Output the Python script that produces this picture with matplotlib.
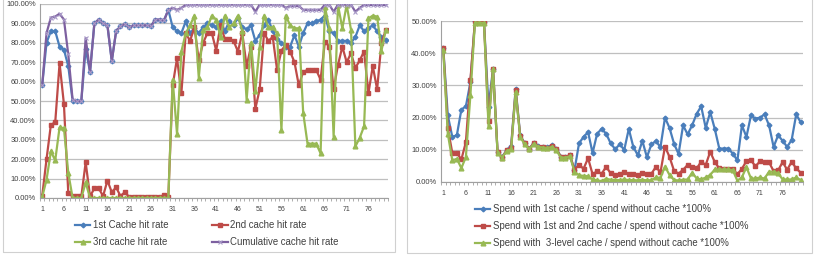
import numpy as np
import matplotlib
matplotlib.use("Agg")
import matplotlib.pyplot as plt
from matplotlib.patches import Rectangle

plt.rcParams['font.family'] = ['Liberation Sans', 'DejaVu Sans']

### Data ###
runs = np.arange(1, 81)
tick_labels = [str(i) for i in range(1, 80, 5)]

hit_1st = [58, 80, 86, 86, 78, 76.5, 68, 50, 50, 50,
           77, 65, 90, 92, 90, 89, 70.6, 86, 88.5, 89.7,
           88, 89, 89, 89, 89, 88.5, 92, 92, 91.5, 97,
           88, 86, 85, 91, 85, 87.5, 85, 88, 90, 89,
           88, 91, 86, 91, 89, 93, 88, 87, 89, 81,
           84, 89, 92, 86, 82, 80, 78, 78, 84, 78,
           85, 90, 90, 91, 92, 94, 86, 85, 81, 81,
           81, 80, 83, 89, 86, 87.5, 89, 86, 83, 81.5]
hit_2nd = [1, 20, 37.7, 39, 69.5, 48.4, 2.6, 0.8, 0.8, 0.8,
           18.4, 0.8, 5, 5, 1, 9, 3, 5.5, 1, 3,
           0.5, 0.5, 0.5, 0.5, 0.5, 0.5, 0.5, 0.5, 1.4, 0.5,
           58, 72, 54, 85, 81, 88, 71, 80, 85, 85,
           76, 89, 82, 82, 81, 75.5, 85, 68, 78, 46,
           56, 85, 81, 83, 66, 76, 79, 75.5, 70, 58,
           65, 66, 66, 66, 61, 80.6, 78, 56, 68.6, 78,
           70, 74.6, 67, 71, 75.5, 54, 68, 56, 80, 86.6]
hit_3rd = [0.5, 9.4, 24, 19.4, 36.4, 36, 13, 0, 0, 0,
           8, 0, 0, 0, 0, 0, 0, 0, 0, 0,
           0, 0, 0, 0, 0, 0, 0, 0, 0, 0,
           61, 33, 75.5, 85, 89, 94, 62, 86.6, 88, 94,
           92, 83, 94, 88, 90, 94, 86, 50.6, 80, 55,
           78, 94, 88, 88, 85, 35, 94, 89, 87.5, 87.5,
           44, 28, 28, 28, 23, 98.6, 87.5, 31.6, 99.5, 87.5,
           99.5, 86.6, 26.6, 31, 37, 92.6, 94, 93.5, 76, 86.6]
hit_cum = [58, 85, 93, 93.5, 95, 92, 74, 50.6, 50, 50,
           82.5, 65, 90, 92, 90, 89, 70.6, 86, 88.5, 89.7,
           88, 89, 89, 89, 89, 88.5, 92, 92, 91.5, 97,
           98, 97, 98, 99.5, 99.7, 99.7, 99.7, 99.7, 99.7, 99.7,
           99.7, 99.7, 99.7, 99.7, 99.7, 99.7, 99.7, 99.7, 99.7, 96,
           99.7, 99.7, 99.7, 99.7, 99.7, 99.7, 98, 99, 99, 99,
           97, 97, 97, 97, 97, 99.7, 99.7, 96, 99.7, 99.7,
           99.7, 99.7, 96, 98, 99.5, 99.5, 99.5, 99.5, 99.5, 99.5]

spend_1 = [41.6, 20.7, 14, 14.5, 22.5, 23.5, 31, 50, 50, 49.7,
           23.3, 35.2, 9.3, 7.8, 9.8, 11.2, 29, 14.5, 12, 10.4,
           12, 11.2, 10.9, 10.9, 11.4, 10.4, 7.8, 7.8, 8.3, 3.6,
           12, 14, 15.5, 9, 15, 16.5, 15, 12, 10.2, 11.7,
           10, 16.5, 10.9, 8.3, 12.8, 7.7, 11.7, 12.7, 10.8, 20,
           16.8, 11.9, 8.7, 17.6, 14.8, 17.6, 21.2, 23.5, 16.8, 21.7,
           16.5, 10.4, 10.4, 10.4, 8.8, 6.7, 17.6, 14, 20.7, 19.7,
           20, 21, 17.6, 10.9, 14.5, 12.8, 10.9, 13.1, 21, 18.5]
spend_12 = [41.6, 16.8, 9, 9, 7, 12.4, 31.6, 50, 50, 49.8,
            18.8, 35.2, 9.3, 7.6, 9.8, 10.6, 28.5, 14.2, 12, 10.4,
            12, 11, 10.9, 10.7, 11.2, 10.2, 7.8, 7.8, 8.3, 3.8,
            5.4, 4.1, 7.4, 2.4, 3.3, 2.6, 4.7, 2.7, 2.2, 2.4,
            3, 2.4, 2.4, 2.1, 2.8, 2.4, 2.6, 4.7, 3, 11,
            7.8, 3.5, 2.6, 3.8, 5.3, 4.8, 4.2, 6.3, 5.3, 9.4,
            6.2, 4.2, 4, 4, 4, 2.4, 4.1, 6.5, 6.7, 4.9,
            6.4, 6.1, 6.1, 3.4, 3.6, 6.2, 3.8, 6.3, 4.2, 2.9]
spend_3 = [40.9, 15, 6.7, 7.2, 4.3, 7.8, 27, 49.5, 49.5, 49.4,
           17.3, 35, 9, 7.6, 9.6, 10.2, 28, 14, 11.7, 10.1,
           11.9, 10.9, 10.7, 10.5, 10.9, 9.8, 7.6, 7.6, 8, 3.2,
           2.1, 1.9, 1.8, 0.8, 0.5, 0.3, 1, 0.7, 0.6, 0.6,
           0.8, 0.6, 0.6, 0.5, 0.7, 0.5, 0.6, 1.4, 1.3, 4.8,
           2.2, 0.6, 0.5, 0.7, 0.8, 2.9, 1.1, 0.8, 1.4, 2.2,
           3.9, 3.9, 3.9, 3.9, 3.6, 0.4, 1.5, 4.6, 1.1, 1.1,
           1.4, 1.1, 3.2, 3.2, 2.7, 0.8, 0.8, 0.8, 1.4, 0.6]

left_labels = ['1st Cache hit rate', '3rd cache hit rate',
               '2nd cache hit rate', 'Cumulative cache hit rate']
right_labels = ['Spend with 1st cache / spend without cache *100%',
                'Spend with 1st and 2nd cache / spend without cache *100%',
                'Spend with  3-level cache / spend without cache *100%']

BLUE, RED, GREEN, PURPLE = '#4A7EBB', '#BE4B48', '#98B954', '#7D60A0'
GRID = '#BFBFBF'
TXT = '#404040'


def style_axis(ax, ymax, step):
    ax.set_xlim(0.5, 80.5)
    ax.set_ylim(0, ymax)
    ax.set_yticks(np.arange(0, ymax + 0.1, step))
    ax.set_yticklabels(['%.2f%%' % v for v in np.arange(0, ymax + 0.1, step)])
    ax.set_xticks(range(1, 80, 5))
    ax.set_xticklabels(tick_labels)
    ax.set_xticks(np.arange(0.5, 81, 1), minor=True)
    ax.tick_params(axis='x', which='major', length=0, labelsize=5, colors=TXT, pad=6)
    ax.tick_params(axis='x', which='minor', length=2, color='#A0A0A0', width=0.6)
    ax.tick_params(axis='y', length=0, labelsize=5.5, colors=TXT, pad=3)
    ax.grid(axis='y', color=GRID, lw=0.9)
    ax.set_axisbelow(True)
    for s in ['top', 'right']:
        ax.spines[s].set_visible(False)
    for s in ['left', 'bottom']:
        ax.spines[s].set_color('#A0A0A0')
        ax.spines[s].set_linewidth(0.8)


fig = plt.figure(figsize=(8.2, 2.56), dpi=100)

# panel frames
fig.patches.append(Rectangle((3 / 820, 4 / 256), 392 / 820, 260 / 256,
                             transform=fig.transFigure, fill=False,
                             ec='#D0D0D0', lw=0.8))
fig.patches.append(Rectangle((407 / 820, 3 / 256), 405 / 820, 260 / 256,
                             transform=fig.transFigure, fill=False,
                             ec='#D0D0D0', lw=0.8))

### Left: hit rates ###
ax1 = fig.add_axes([40 / 820, 58 / 256, 348 / 820, 194 / 256])
style_axis(ax1, 100, 10)
l_b, = ax1.plot(runs, hit_1st, color=BLUE, lw=1.6, marker='D', ms=2.4)
l_r, = ax1.plot(runs, hit_2nd, color=RED, lw=1.6, marker='s', ms=3.4)
l_g, = ax1.plot(runs, hit_3rd, color=GREEN, lw=1.6, marker='^', ms=3.4)
l_p, = ax1.plot(runs, hit_cum, color=PURPLE, lw=1.6, marker='x', ms=3,
                mec='#A99BC8', mew=0.8)
fig.legend([l_b, l_g, l_r, l_p], left_labels, ncol=2, frameon=False,
           loc='upper left', bbox_to_anchor=(75 / 820, 36 / 256),
           fontsize=6.9, handlelength=1.6, handletextpad=0.25,
           columnspacing=4.6, labelspacing=0.75, labelcolor=TXT,
           borderpad=0, borderaxespad=0)

### Right: spend ratios ###
ax2 = fig.add_axes([441 / 820, 74 / 256, 362 / 820, 161 / 256])
style_axis(ax2, 50, 10)
r_b, = ax2.plot(runs, spend_1, color=BLUE, lw=1.6, marker='D', ms=2.4)
r_r, = ax2.plot(runs, spend_12, color=RED, lw=1.6, marker='s', ms=3.4)
r_g, = ax2.plot(runs, spend_3, color=GREEN, lw=1.6, marker='^', ms=3.4)
fig.legend([r_b, r_r, r_g], right_labels, ncol=1, frameon=False,
           loc='upper left', bbox_to_anchor=(475 / 820, 52 / 256),
           fontsize=6.9, handlelength=1.6, handletextpad=0.25,
           labelspacing=0.75, labelcolor=TXT,
           borderpad=0, borderaxespad=0)

fig.savefig('out.png', dpi=100)
